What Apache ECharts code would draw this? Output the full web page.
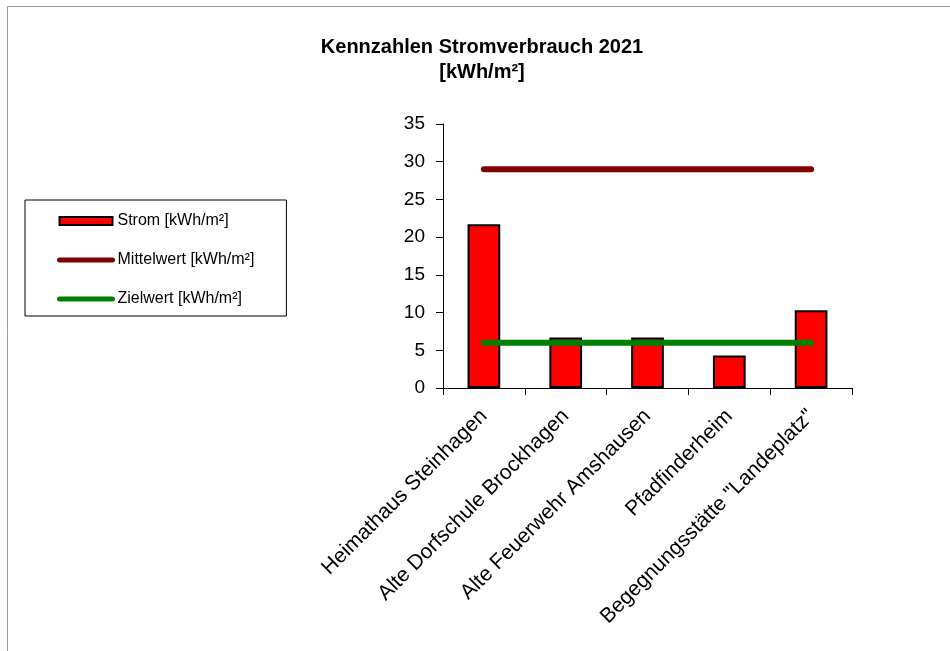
<!DOCTYPE html>
<html>
<head>
<meta charset="utf-8">
<script src="https://cdn.jsdelivr.net/npm/echarts@6/dist/echarts.min.js"></script>
<style>html,body{margin:0;padding:0;background:#fff;}#c{width:950px;height:651px;}</style>
</head>
<body>
<div id="c"></div>
<script>
const categories = ['Heimathaus Steinhagen', 'Alte Dorfschule Brockhagen', 'Alte Feuerwehr Amshausen', 'Pfadfinderheim', 'Begegnungsstätte "Landeplatz"'];
const strom = [21.7, 6.7, 6.7, 4.3, 10.3];
const mittelwert = [29, 29, 29, 29, 29];
const zielwert = [6, 6, 6, 6, 6];
const yTicks = { min: 0, max: 35, interval: 5 };

const font = '"Liberation Sans", Arial, sans-serif';
const chart = echarts.init(document.getElementById('c'), null, { renderer: 'canvas' });
chart.setOption({
  animation: false,
  backgroundColor: '#fff',
  textStyle: { fontFamily: font },
  graphic: [{
    type: 'polyline',
    shape: { points: [[7.5, 651], [7.5, 6.5], [950, 6.5]] },
    style: { stroke: '#9a9a9a', lineWidth: 1, fill: null },
    silent: true
  }],
  title: {
    text: 'Kennzahlen Stromverbrauch 2021\n[kWh/m²]',
    left: 477, top: 30, textAlign: 'center',
    textStyle: { fontFamily: font, fontWeight: 'bold', fontSize: 20, color: '#000', lineHeight: 25 }
  },
  legend: {
    orient: 'vertical', left: 25, top: 200,
    padding: [13, 32, 9, 32],
    itemGap: 23, itemWidth: 53, itemHeight: 8,
    borderColor: '#000', borderWidth: 1,
    textStyle: { fontFamily: font, fontSize: 16, color: '#000' },
    data: [
      { name: 'Strom [kWh/m²]', icon: 'rect' },
      { name: 'Mittelwert [kWh/m²]', itemStyle: { opacity: 0 }, lineStyle: { width: 5, cap: 'round' } },
      { name: 'Zielwert [kWh/m²]', itemStyle: { opacity: 0 }, lineStyle: { width: 5, cap: 'round' } }
    ]
  },
  grid: { left: 443, right: 98, top: 124, bottom: 263, containLabel: false },
  xAxis: {
    type: 'category', data: categories,
    axisLine: { lineStyle: { color: '#000', width: 1 } },
    axisTick: { show: true, length: 7, lineStyle: { color: '#000' } },
    axisLabel: { rotate: 45, fontSize: 21, color: '#000', fontFamily: font, margin: 25, interval: 0 }
  },
  yAxis: {
    type: 'value', min: yTicks.min, max: yTicks.max, interval: yTicks.interval,
    splitLine: { show: false },
    axisLine: { show: true, lineStyle: { color: '#000', width: 1 } },
    axisTick: { show: true, length: 7, lineStyle: { color: '#000' } },
    axisLabel: { fontSize: 19, color: '#000', fontFamily: font, margin: 18 }
  },
  series: [
    {
      name: 'Strom [kWh/m²]', type: 'bar', data: strom, barWidth: '40%',
      itemStyle: { color: '#ff0000', borderColor: '#000', borderWidth: 2 }, z: 2
    },
    {
      name: 'Mittelwert [kWh/m²]', type: 'line', data: mittelwert, symbol: 'none',
      lineStyle: { color: '#800000', width: 6, cap: 'round' }, itemStyle: { color: '#800000' }, z: 3
    },
    {
      name: 'Zielwert [kWh/m²]', type: 'line', data: zielwert, symbol: 'none',
      lineStyle: { color: '#008000', width: 6, cap: 'round' }, itemStyle: { color: '#008000' }, z: 3
    }
  ]
});
</script>
</body>
</html>
